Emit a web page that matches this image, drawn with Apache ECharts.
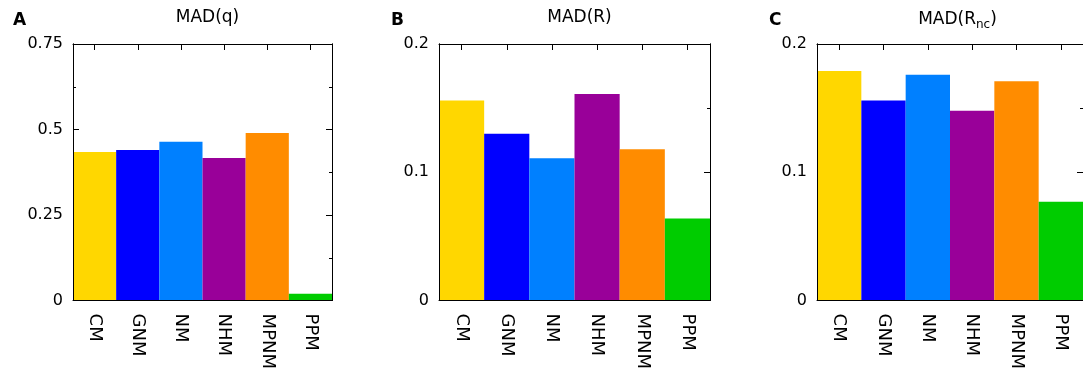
<!DOCTYPE html>
<html>
<head>
<meta charset="utf-8">
<script src="https://cdn.jsdelivr.net/npm/echarts@6/dist/echarts.min.js"></script>
<style>
html,body{margin:0;padding:0;background:#fff;}
#chart{width:1083px;height:372px;}
</style>
</head>
<body>
<div id="chart"></div>
<script>
// ---- data ----
const categories = ['CM', 'GNM', 'NM', 'NHM', 'MPNM', 'PPM'];
const madQ   = [0.434, 0.440, 0.464, 0.417, 0.490, 0.020];
const madR   = [0.156, 0.130, 0.111, 0.161, 0.118, 0.064];
const madRnc = [0.179, 0.156, 0.176, 0.148, 0.171, 0.077];
const barColors = ['#ffd700', '#0000ff', '#0080ff', '#990099', '#ff8c00', '#00cc00'];
const panelLetters = ['A', 'B', 'C'];
const panelTitles = ['MAD(q)', 'MAD(R)', '{n|MAD(R}{s|nc}{n|)}'];
const yMax = [0.75, 0.2, 0.2];
const yInterval = [0.25, 0.1, 0.1];
const panelValues = [madQ, madR, madRnc];

// ---- layout (pixels) ----
const grids = [
  {left: 73, top: 44, width: 259, height: 257},
  {left: 439, top: 44, width: 271, height: 257},
  {left: 817, top: 44, width: 271, height: 257}
];
const letterX = [8, 386, 764];
const FONT = 'DejaVu Sans';

const chart = echarts.init(document.getElementById('chart'), null, {renderer: 'canvas'});

const option = {
  animation: false,
  backgroundColor: '#fff',
  textStyle: {fontFamily: FONT},
  title: [],
  grid: [],
  xAxis: [],
  yAxis: [],
  series: []
};

const lineStyle = {color: '#000', width: 1};

grids.forEach((g, i) => {
  option.grid.push(Object.assign({containLabel: false}, g));
  const cx = g.left + g.width / 2;
  option.title.push({
    text: panelTitles[i],
    left: cx, top: 4, textAlign: 'center',
    textStyle: {
      fontFamily: FONT, fontSize: 17, fontWeight: 'normal', color: '#000',
      rich: {
        n: {fontFamily: FONT, fontSize: 17, color: '#000'},
        s: {fontFamily: FONT, fontSize: 12, color: '#000', padding: [10, 0, 0, 0]}
      }
    }
  });
  option.title.push({
    text: panelLetters[i],
    left: letterX[i], top: 7,
    textStyle: {fontFamily: FONT, fontSize: 17, fontWeight: 'bold', color: '#000'}
  });

  // bottom category axis with labels (line drawn above bars)
  option.xAxis.push({
    gridIndex: i, type: 'category', data: categories, position: 'bottom',
    boundaryGap: true, z: 5,
    axisLine: {show: true, onZero: false, lineStyle: lineStyle},
    axisTick: {show: false},
    axisLabel: {rotate: -90, fontSize: 18, color: '#000', fontFamily: FONT, margin: 13, interval: 0},
    splitLine: {show: false}
  });
  // top axis with inward ticks at category centres
  option.xAxis.push({
    gridIndex: i, type: 'category', data: categories, position: 'top',
    boundaryGap: true, z: 5,
    axisLine: {show: true, onZero: false, lineStyle: lineStyle},
    axisTick: {show: true, inside: true, length: 6, alignWithLabel: true, interval: 0, lineStyle: lineStyle},
    axisLabel: {show: false},
    splitLine: {show: false}
  });
  const yBase = {
    gridIndex: i, type: 'value', min: 0, max: yMax[i], interval: yInterval[i],
    splitLine: {show: false}
  };
  // left axis: labels + ticks (under bars)
  option.yAxis.push(Object.assign({}, yBase, {
    position: 'left', z: 0,
    axisLine: {show: true, onZero: false, lineStyle: lineStyle},
    axisTick: {show: true, inside: true, length: 6, lineStyle: lineStyle},
    minorTick: {show: true, splitNumber: 2, length: 3, lineStyle: lineStyle},
    axisLabel: {show: true, fontSize: 16, color: '#000', fontFamily: FONT, margin: 10}
  }));
  // right axis: ticks (under bars)
  option.yAxis.push(Object.assign({}, yBase, {
    position: 'right', z: 0,
    axisLine: {show: true, onZero: false, lineStyle: lineStyle},
    axisTick: {show: true, inside: true, length: 6, lineStyle: lineStyle},
    minorTick: {show: true, splitNumber: 2, length: 3, lineStyle: lineStyle},
    axisLabel: {show: false}
  }));
  // frame lines above the bars
  option.yAxis.push(Object.assign({}, yBase, {
    position: 'left', offset: 0, z: 5,
    axisLine: {show: true, onZero: false, lineStyle: lineStyle},
    axisTick: {show: false}, axisLabel: {show: false}
  }));
  option.yAxis.push(Object.assign({}, yBase, {
    position: 'right', offset: 0, z: 5,
    axisLine: {show: true, onZero: false, lineStyle: lineStyle},
    axisTick: {show: false}, axisLabel: {show: false}
  }));

  option.series.push({
    type: 'bar',
    xAxisIndex: i * 2,
    yAxisIndex: i * 4,
    barWidth: '100%',
    barCategoryGap: 0,
    z: 2,
    data: panelValues[i].map((v, k) => ({value: v, itemStyle: {color: barColors[k]}}))
  });
});

chart.setOption(option);
</script>
</body>
</html>
